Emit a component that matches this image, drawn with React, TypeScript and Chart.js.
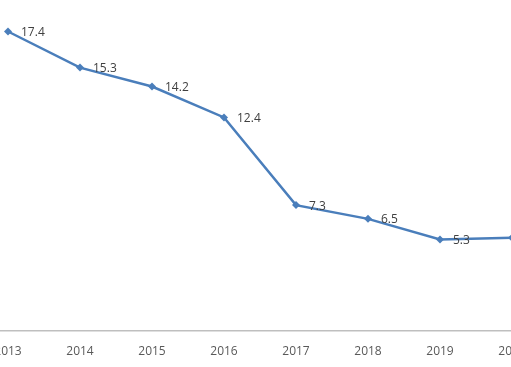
import React, { useEffect, useRef } from "react";
import { Chart, registerables } from "chart.js";

Chart.register(...registerables);

const years = ["2013", "2014", "2015", "2016", "2017", "2018", "2019", "2020"];
const values = [17.4, 15.3, 14.2, 12.4, 7.3, 6.5, 5.3, 5.4];
const valueLabels = ["17.4", "15.3", "14.2", "12.4", "7.3", "6.5", "5.3", ""];

const labelPlugin = {
  id: "pointLabels",
  afterDatasetsDraw(chart: any) {
    const ctx = chart.ctx;
    const meta = chart.getDatasetMeta(0);
    ctx.save();
    ctx.font = "12px 'Open Sans'";
    ctx.fillStyle = "#404040";
    ctx.textAlign = "left";
    ctx.textBaseline = "middle";
    meta.data.forEach((pt: any, i: number) => {
      const t = valueLabels[i];
      if (t) ctx.fillText(t, pt.x + 13, pt.y + 1);
    });
    ctx.restore();
  },
};

export default function App() {
  const ref = useRef<HTMLCanvasElement | null>(null);
  useEffect(() => {
    if (!ref.current) return;
    const chart = new Chart(ref.current, {
      type: "line",
      data: {
        labels: years,
        datasets: [
          {
            data: values,
            borderColor: "#4a7ebb",
            backgroundColor: "#4a7ebb",
            borderWidth: 2.5,
            pointStyle: "rectRot",
            pointRadius: 4,
            pointBorderWidth: 0,
            tension: 0,
            clip: false as any,
          },
        ],
      },
      options: {
        responsive: false,
        animation: false,
        layout: { padding: 0 },
        plugins: { legend: { display: false }, tooltip: { enabled: false } },
        scales: {
          x: {
            type: "category",
            offset: true,
            grid: { display: false, drawTicks: false },
            border: { display: true, color: "#bfbfbf", width: 1.5 },
            ticks: {
              color: "#595959",
              font: { family: "'Open Sans'", size: 12 },
              padding: 14,
              maxRotation: 0,
              autoSkip: false,
            },
          },
          y: { display: false, min: 0, max: 19.0 },
        },
      },
      plugins: [labelPlugin],
    });
    return () => chart.destroy();
  }, []);
  return (
    <div
      style={{
        position: "fixed",
        top: 0,
        left: 0,
        width: 511,
        height: 367,
        overflow: "hidden",
        background: "#ffffff",
      }}
    >
      <canvas
        ref={ref}
        width={584}
        height={373}
        style={{ position: "absolute", left: -32, top: 0, width: 584, height: 373 }}
      />
    </div>
  );
}
